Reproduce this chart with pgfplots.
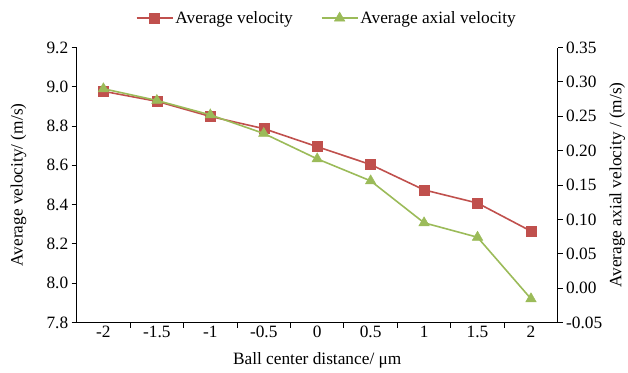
\documentclass[border=0pt]{standalone}
\usepackage{fontspec}
\setmainfont{Liberation Serif}
\usepackage{pgfplots}
\pgfplotsset{compat=1.18}
\definecolor{cred}{HTML}{C0504D}
\definecolor{cgreen}{HTML}{9BBB59}
\newcommand{\chartfont}{\fontsize{17.3bp}{20bp}\selectfont}
\pgfplotsset{
  base/.style={
    scale only axis, width=481bp, height=275bp,
    at={(0,0)}, anchor=south west,
    xmin=-0.5, xmax=8.5,
    /pgf/number format/assume math mode=true,
    tick align=outside,
    major tick length=5bp,
    tick style={line width=0.9bp, black},
    axis line style={line width=1.6bp, -},
    font=\chartfont,
    ticklabel style={font=\chartfont},
    label style={font=\chartfont},
  },
  redser/.style={color=cred, line width=1.6bp, mark=square*, mark size=5bp, mark options={fill=cred, draw=cred, line width=0.5bp}},
  greenser/.style={color=cgreen, line width=1.6bp, mark=triangle*, mark size=6bp, mark options={fill=cgreen, draw=cgreen, line width=0.5bp}},
}
\begin{document}
\begin{tikzpicture}
\path[use as bounding box] (-76.7bp,-50.5bp) rectangle (551.3bp,322.5bp);
\begin{axis}[base,
  axis x line*=bottom, axis y line*=left,
  ymin=7.8, ymax=9.2,
  ytick={7.8,8.0,8.2,8.4,8.6,8.8,9.0,9.2},
  yticklabel style={/pgf/number format/.cd, fixed, fixed zerofill, precision=1},
  xtick={0.5,1.5,2.5,3.5,4.5,5.5,6.5,7.5},
  xticklabels={},
  extra x ticks={0,1,2,3,4,5,6,7,8},
  extra x tick labels={-2,-1.5,-1,-0.5,0,0.5,1,1.5,2},
  extra x tick style={major tick length=0pt},
  xlabel={Ball center distance/ μm},
  xlabel style={at={(axis description cs:0.5,-0.136)}, anchor=center},
  ylabel={Average velocity/ (m/s)},
  ylabel style={at={(axis description cs:-0.121,0.5)}, anchor=center},
]
\addplot[redser] coordinates {
(0,8.977) (1,8.926) (2,8.849) (3,8.787) (4,8.695) (5,8.604) (6,8.475) (7,8.408) (8,8.265)
};
\end{axis}
\begin{axis}[base,
  axis x line=none, axis y line*=right,
  ymin=-0.05, ymax=0.35,
  ytick={-0.05,0,0.05,0.10,0.15,0.20,0.25,0.30,0.35},
  yticklabel style={/pgf/number format/.cd, fixed, fixed zerofill, precision=2},
  ylabel={Average axial velocity / (m/s)},
  ylabel style={at={(axis description cs:1.124,0.5)}, anchor=center, rotate=0},
  legend columns=2,
  legend style={draw=none, fill=none, at={(axis description cs:0.52,1.107)}, anchor=center,
    font=\chartfont,
    /tikz/every even column/.append style={column sep=26bp}},
  legend image code/.code={\draw[mark repeat=2,mark phase=2] plot coordinates {(0bp,0bp) (18bp,0bp) (36bp,0bp)};},
]
\addlegendimage{redser}
\addlegendentry{Average velocity}
\addplot[greenser] coordinates {
(0,0.290) (1,0.273) (2,0.252) (3,0.225) (4,0.188) (5,0.156) (6,0.095) (7,0.074) (8,-0.0155)
};
\addlegendentry{Average axial velocity}
\end{axis}
\end{tikzpicture}
\end{document}
